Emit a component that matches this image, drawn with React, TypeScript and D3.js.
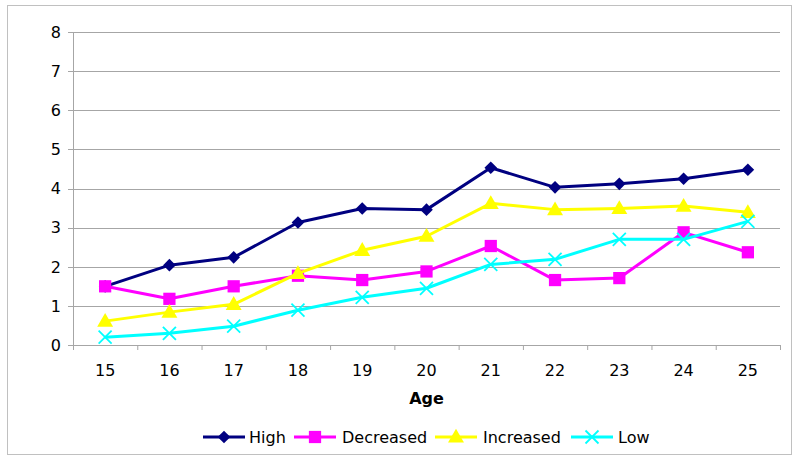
import { line as d3Line, scaleBand, scaleLinear, symbol, symbolSquare, symbolTriangle } from "d3"

const ages = ["15", "16", "17", "18", "19", "20", "21", "22", "23", "24", "25"]
const high = [1.5, 2.04, 2.24, 3.13, 3.49, 3.46, 4.53, 4.03, 4.12, 4.25, 4.48]
const decreased = [1.5, 1.18, 1.5, 1.77, 1.66, 1.88, 2.53, 1.66, 1.71, 2.88, 2.37]
const increased = [0.61, 0.84, 1.04, 1.83, 2.42, 2.78, 3.62, 3.46, 3.49, 3.55, 3.39]
const low = [0.2, 0.3, 0.48, 0.89, 1.22, 1.45, 2.06, 2.19, 2.7, 2.7, 3.16]
const yTicks = [0, 1, 2, 3, 4, 5, 6, 7, 8]

type MarkerKind = "diamond" | "square" | "triangle" | "x"

interface SeriesDef {
  label: string
  values: number[]
  color: string
  marker: MarkerKind
}

const seriesDefs: SeriesDef[] = [
  { label: "High", values: high, color: "#000080", marker: "diamond" },
  { label: "Decreased", values: decreased, color: "#ff00ff", marker: "square" },
  { label: "Increased", values: increased, color: "#ffff00", marker: "triangle" },
  { label: "Low", values: low, color: "#00ffff", marker: "x" },
]

const font = "'DejaVu Sans', Verdana, sans-serif"
const gridColor = "#a6a6a6"

function Marker({ kind, x, y, color }: { kind: MarkerKind; x: number; y: number; color: string }) {
  if (kind === "x") {
    const r = 6.5
    return (
      <g transform={`translate(${x},${y})`} stroke={color} strokeWidth={1.8}>
        <line x1={-r} y1={-r} x2={r} y2={r} />
        <line x1={-r} y1={r} x2={r} y2={-r} />
      </g>
    )
  }
  if (kind === "diamond") {
    // rotated square, like the spreadsheet marker
    const path = symbol().type(symbolSquare).size(80)() ?? ""
    return <path d={path} transform={`translate(${x},${y}) rotate(45)`} fill={color} />
  }
  const type = kind === "square" ? symbolSquare : symbolTriangle
  const size = kind === "square" ? 150 : 110
  const path = symbol().type(type).size(size)() ?? ""
  return <path d={path} transform={`translate(${x},${y + (kind === "triangle" ? 1 : 0)})`} fill={color} />
}

export default function App() {
  const width = 800
  const height = 460
  const plot = { left: 73, right: 780, top: 32, bottom: 345 }

  const xScale = scaleBand<string>().domain(ages).range([plot.left, plot.right])
  const yScale = scaleLinear().domain([0, 8]).range([plot.bottom, plot.top])
  const cx = (i: number) => (xScale(ages[i]) ?? 0) + xScale.bandwidth() / 2

  const lineGen = d3Line<number>()
    .x((_, i) => cx(i))
    .y((v) => yScale(v))

  const legendItems = [
    { x: 203, textX: 249 },
    { x: 294, textX: 342 },
    { x: 435, textX: 483 },
    { x: 571, textX: 618 },
  ]
  const legendY = 437

  return (
    <svg width={width} height={height} style={{ position: "absolute", left: 0, top: 0, fontFamily: font }}>
      <rect x={0} y={0} width={width} height={height} fill="#fff" />
      <rect x={7.5} y={5.5} width={784} height={449} fill="none" stroke="#c0c0c0" strokeWidth={1} />

      {yTicks.map((t) => (
        <g key={t}>
          <line x1={plot.left - 5} x2={plot.right} y1={Math.round(yScale(t)) + 0.5} y2={Math.round(yScale(t)) + 0.5} stroke={gridColor} />
          <text x={61} y={yScale(t)} dy="0.36em" textAnchor="end" fontSize={16} fill="#000">
            {t}
          </text>
        </g>
      ))}

      <line x1={plot.left + 0.5} x2={plot.left + 0.5} y1={plot.top} y2={plot.bottom + 5} stroke={gridColor} />
      {ages.map((a) => (
        <line key={`t${a}`} x1={(xScale(a) ?? 0) + xScale.bandwidth() + 0.5} x2={(xScale(a) ?? 0) + xScale.bandwidth() + 0.5} y1={plot.bottom} y2={plot.bottom + 5} stroke={gridColor} />
      ))}
      {ages.map((a, i) => (
        <text key={a} x={cx(i)} y={376} textAnchor="middle" fontSize={16} fill="#000">
          {a}
        </text>
      ))}
      <text x={(plot.left + plot.right) / 2} y={404} textAnchor="middle" fontSize={16} fontWeight="bold" fill="#000">
        Age
      </text>

      {seriesDefs.map((s) => (
        <g key={s.label}>
          <path d={lineGen(s.values) ?? ""} fill="none" stroke={s.color} strokeWidth={3} strokeLinejoin="round" />
          {s.values.map((v, i) => (
            <Marker key={i} kind={s.marker} x={cx(i)} y={yScale(v)} color={s.color} />
          ))}
        </g>
      ))}

      {seriesDefs.map((s, i) => (
        <g key={`lg${s.label}`}>
          <line x1={legendItems[i].x} x2={legendItems[i].x + 42} y1={legendY} y2={legendY} stroke={s.color} strokeWidth={3} />
          <Marker kind={s.marker} x={legendItems[i].x + 21} y={legendY} color={s.color} />
          <text x={legendItems[i].textX} y={legendY} dy="0.36em" fontSize={16} fill="#000">
            {s.label}
          </text>
        </g>
      ))}
    </svg>
  )
}
